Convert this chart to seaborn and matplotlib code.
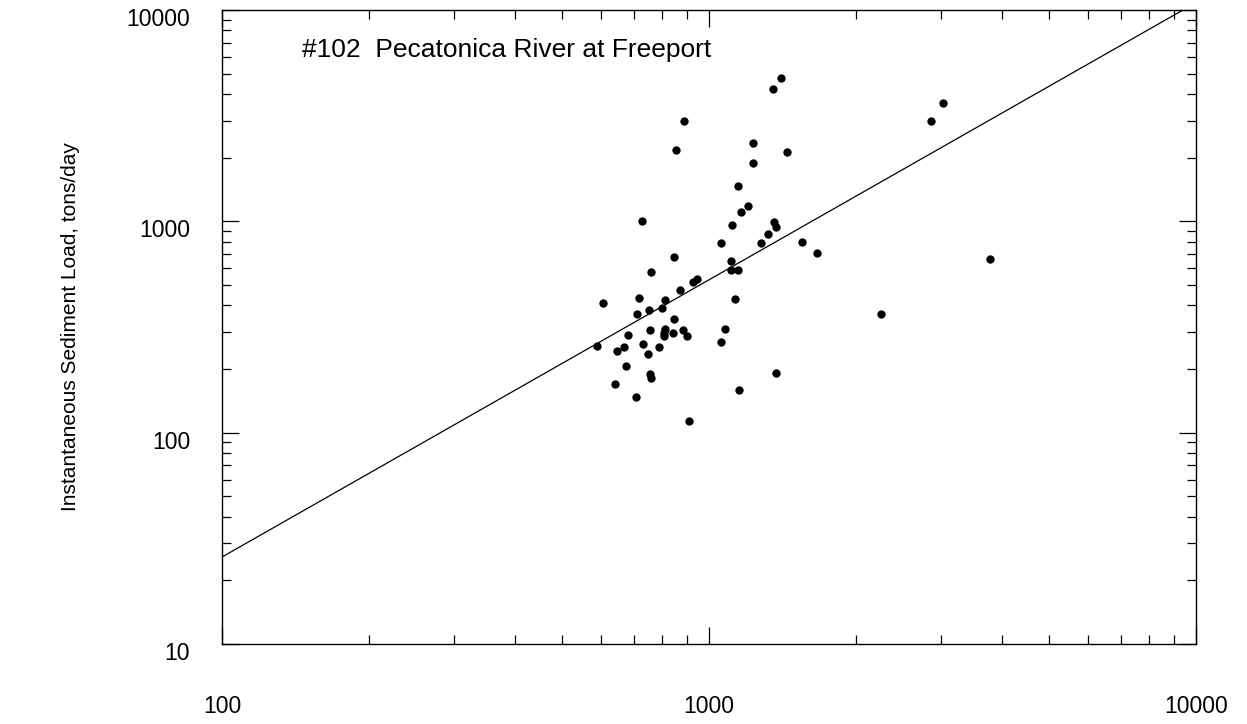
"""
Sediment load vs. discharge, station #102 (Pecatonica River at Freeport).
Log-log scatter with fitted rating line.
"""

import matplotlib
matplotlib.use("Agg")

import matplotlib.pyplot as plt
import matplotlib.transforms as mtransforms
import numpy as np
import pandas as pd
import seaborn as sns
from matplotlib.ticker import FixedLocator, LogLocator, NullFormatter

# discharge (x) and instantaneous sediment load (y)
discharge = [
    1403, 1351, 887, 856, 1231, 1448, 1229, 1149, 1203, 1165,
    729, 1115, 1362, 1373, 1322, 1281, 1555, 1060, 1667, 848,
    1111, 761, 1110, 1145, 929, 945, 872, 605, 717, 814,
    753, 801, 710, 1129, 848, 757, 811, 810, 808, 843,
    883, 900, 1080, 1056, 682, 590, 646, 669, 731, 791,
    750, 675, 758, 761, 642, 708, 1151, 1373, 909, 3020,
    2861, 3776, 2252,
]
sediment_load = [
    4762, 4246, 2968, 2187, 2360, 2123, 1883, 1476, 1187, 1107,
    1008, 965, 992, 937, 871, 793, 798, 787, 711, 680,
    648, 573, 590, 586, 518, 535, 471, 409, 432, 426,
    382, 390, 363, 428, 345, 307, 310, 297, 286, 297,
    305, 288, 309, 268, 290, 258, 244, 254, 264, 255,
    235, 207, 190, 182, 170, 147, 159, 192, 114, 3636,
    2968, 660, 363,
]

# fitted rating line, end points
fit_x = [100, 10000]
fit_y = [25.8, 10840]

title_text = "#102  Pecatonica River at Freeport"
y_label = "Instantaneous Sediment Load, tons/day"
x_ticks = [100, 1000, 10000]
y_ticks = [10, 100, 1000, 10000]

df = pd.DataFrame({"discharge": discharge, "load": sediment_load})

sns.set_style("ticks")
plt.rcParams["font.family"] = ["Liberation Sans", "DejaVu Sans"]
plt.rcParams.update({
    "text.color": "black",
    "axes.labelcolor": "black",
    "xtick.color": "black",
    "ytick.color": "black",
})

fig = plt.figure(figsize=(12.47, 7.24), dpi=100)
ax = fig.add_axes([222 / 1247, 1 - 644 / 724, (1196 - 222) / 1247, (644 - 10) / 724])

ax.plot(fit_x, fit_y, color="black", linewidth=0.9)
sns.scatterplot(data=df, x="discharge", y="load", ax=ax, color="black",
                s=36, linewidth=0, zorder=3)

ax.set_xscale("log")
ax.set_yscale("log")
ax.set_xlim(100, 10000)
ax.set_ylim(10, 10000)

ax.xaxis.set_major_locator(FixedLocator(x_ticks))
ax.yaxis.set_major_locator(FixedLocator(y_ticks))
ax.xaxis.set_minor_locator(LogLocator(base=10, subs=np.arange(2, 10)))
ax.yaxis.set_minor_locator(LogLocator(base=10, subs=np.arange(2, 10)))
ax.xaxis.set_minor_formatter(NullFormatter())
ax.yaxis.set_minor_formatter(NullFormatter())
ax.set_xticklabels([str(t) for t in x_ticks])
ax.set_yticklabels([str(t) for t in y_ticks])

ax.tick_params(which="both", direction="in", top=True, right=True,
               color="black", width=0.9, labelsize=16.5)
ax.tick_params(which="major", length=12)
ax.tick_params(which="minor", length=6.5)
ax.tick_params(axis="x", which="major", pad=37)
ax.tick_params(axis="y", which="major", pad=23)

# y labels sit a little below their ticks in the original
for lbl in ax.get_yticklabels():
    lbl.set_transform(lbl.get_transform()
                      + mtransforms.ScaledTranslation(0, -7 / 100, fig.dpi_scale_trans))

for sp in ax.spines.values():
    sp.set_visible(True)
    sp.set_color("black")
    sp.set_linewidth(1.0)

ax.set_xlabel("")
ax.set_ylabel(y_label, fontsize=15)
ax.yaxis.set_label_coords(-142 / 974, 0.5)

ax.text((302 - 222) / 974, (644 - 50) / 634, title_text, transform=ax.transAxes,
        fontsize=19, va="center", ha="left")

fig.savefig("out.png", dpi=100)
plt.close(fig)
